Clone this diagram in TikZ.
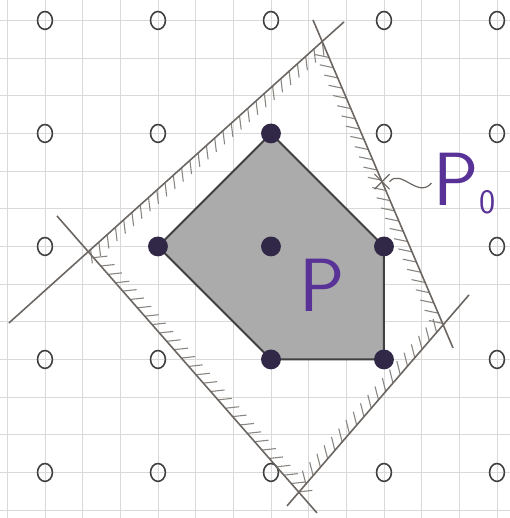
\documentclass[tikz,border=0pt]{standalone}
\usepackage{tikz}
\usetikzlibrary{calc}
\usetikzlibrary{shapes.misc,shapes.geometric}
\usetikzlibrary{decorations.pathreplacing}

\definecolor{ink}{RGB}{88,50,150}
\definecolor{pencil}{RGB}{108,102,98}
\definecolor{dotink}{RGB}{48,40,70}

\tikzset{
  gridline/.style={draw=black!15, line width=0.4pt},
  lattice/.style={ellipse, draw=black!75, line width=0.8pt, minimum width=7.5pt, minimum height=9pt, inner sep=0pt},
  vertex/.style={circle, fill=dotink, minimum size=10pt, inner sep=0pt},
  halfline/.style={draw=pencil, line width=0.8pt},
  hatch/.style={draw=pencil!80, line width=0.55pt, decorate,
    decoration={border, segment length=5.6pt, amplitude=7pt, angle=55}},
  label/.style={text=ink, font=\sffamily\fontsize{38}{40}\selectfont, inner sep=1pt}
}

\begin{document}
\begin{tikzpicture}[x=2cm,y=2cm]
  \useasboundingbox (-0.398,-0.403) rectangle (4.115,4.181);
  \draw[gridline, step=1/3] (-0.398,-0.403) grid (4.115,4.181);

  \foreach \j/\cols in {0/{0,1,2,3,4}, 1/{0,1,4}, 2/{0,4}, 3/{0,1,3,4}, 4/{0,1,2,3,4}}
    \foreach \i in \cols
      \node[lattice] (l-\i-\j) at (\i,\j) {};

  \coordinate (a1) at (2.646,3.987);
  \coordinate (a2) at (-0.319,1.323);
  \coordinate (b1) at (2.372,4.004);
  \coordinate (b2) at (3.611,1.102);
  \coordinate (c1) at (0.106,2.270);
  \coordinate (c2) at (2.407,-0.358);
  \coordinate (d1) at (2.142,-0.296);
  \coordinate (d2) at (3.752,1.571);

  \coordinate (ab) at (intersection of a1--a2 and b1--b2);
  \coordinate (ac) at (intersection of a1--a2 and c1--c2);
  \coordinate (cd) at (intersection of c1--c2 and d1--d2);
  \coordinate (bd) at (intersection of b1--b2 and d1--d2);

  \draw[hatch] (ab) -- (ac) -- (cd) -- (bd) -- cycle;
  \draw[halfline] (a1) -- (a2);
  \draw[halfline] (b1) -- (b2);
  \draw[halfline] (c1) -- (c2);
  \draw[halfline] (d1) -- (d2);

  \filldraw[fill=black!33, draw=black!75, line width=1pt]
    (2,3) -- (1,2) -- (2,1) -- (3,1) -- (3,2) -- cycle;

  \node[vertex] (top) at (2,3) {};
  \node[vertex] (left) at (1,2) {};
  \node[vertex] (mid) at (2,2) {};
  \node[vertex] (right) at (3,2) {};
  \node[vertex] (botl) at (2,1) {};
  \node[vertex] (botr) at (3,1) {};

  \node[label] (p) at (2.451,1.659) {P};

  \node[cross out, draw=pencil, line width=0.6pt, minimum size=7pt, inner sep=0pt]
    (p0) at ($(b1)!0.493!(b2)$) {};
  \node[label, anchor=west] (p0lab) at (3.42,2.56) {P$_{\scriptscriptstyle\mathsf{0}}$};
  \draw[pencil, line width=0.6pt] (p0.east) .. controls +(0.1,0.12) and +(-0.12,-0.14) .. (p0lab.west);
\end{tikzpicture}
\end{document}
